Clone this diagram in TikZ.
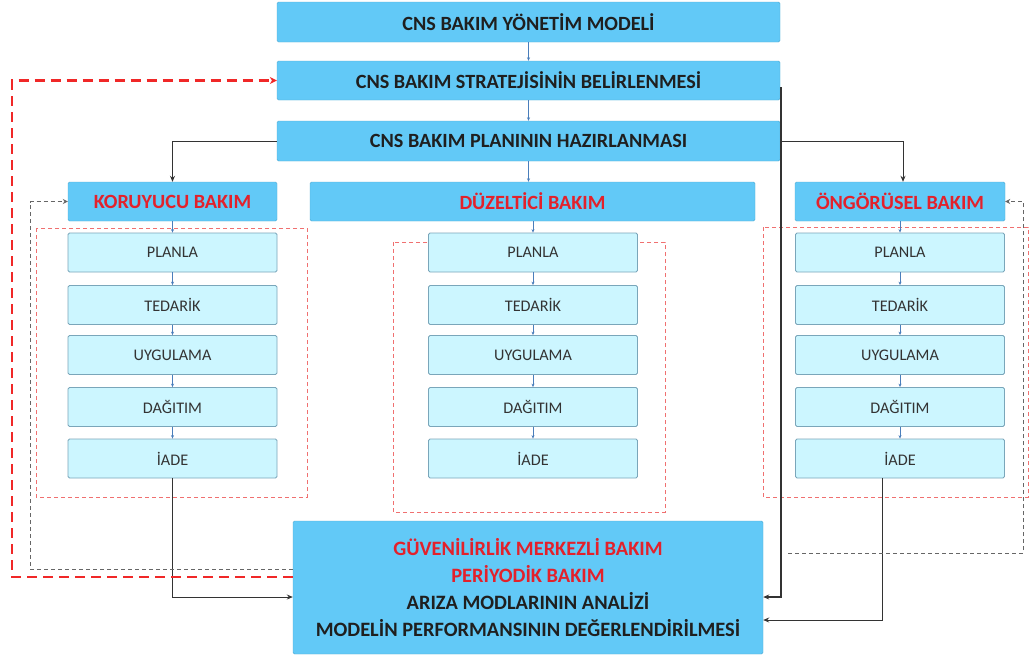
\documentclass[tikz,border=0pt]{standalone}
\usepackage{fontspec}
\setmainfont{Carlito}
\usetikzlibrary{arrows.meta}
\definecolor{boxblue}{HTML}{62C9F7}
\definecolor{subcyan}{HTML}{CCF6FF}
\definecolor{subedge}{HTML}{7AA6BA}
\definecolor{redtxt}{HTML}{E3212B}
\definecolor{dashred}{HTML}{F07070}
\definecolor{thickred}{HTML}{F02828}
\definecolor{arrblue}{HTML}{4A7EBB}
\definecolor{dashgray}{HTML}{666666}
\begin{document}
\begin{tikzpicture}[x=1pt,y=-1pt,
 mainbox/.style={rectangle, fill=boxblue, draw=boxblue!85!black, line width=0.4pt, rounded corners=1.5pt, inner sep=0pt, font=\bfseries\fontsize{20.2}{22}\selectfont, text=black!88},
 subbox/.style={rectangle, fill=subcyan, draw=subedge, line width=0.8pt, rounded corners=1.5pt, inner sep=0pt, minimum width=209pt, minimum height=39pt, font=\fontsize{16.2}{18}\selectfont, text=black!80},
 redlabel/.style={text=redtxt},
 flow/.style={arrblue, line width=0.6pt, -{Stealth[length=3.5pt,width=3pt]}},
 link/.style={black!80, line width=0.9pt, -{Stealth[length=6pt,width=5pt]}},
 groupframe/.style={dashred, line width=0.9pt, dash pattern=on 4pt off 3pt},
 reddash/.style={thickred, line width=2.4pt, dash pattern=on 10pt off 6pt, -{Stealth[length=7pt,width=7pt]}},
 graydash/.style={dashgray, line width=0.9pt, dash pattern=on 4pt off 3pt, -{Stealth[length=5pt,width=5pt]}}
]
\useasboundingbox[fill=white] (0,0) rectangle (1030,659);

% group frames
\draw[groupframe] (36,228) rectangle (307,497);
\draw[groupframe] (393,242) rectangle (665,512);
\draw[groupframe] (763,227) rectangle (1028,497);

% top boxes
\node[mainbox, minimum width=503pt, minimum height=40pt] (b1) at (528.5,22) {CNS BAKIM YÖNETİM MODELİ};
\node[mainbox, minimum width=503pt, minimum height=39pt] (b2) at (528.5,80.5) {CNS BAKIM STRATEJİSİNİN BELİRLENMESİ};
\node[mainbox, minimum width=503pt, minimum height=40pt] (b3) at (528.5,141) {CNS BAKIM PLANININ HAZIRLANMASI};
\node[mainbox, redlabel, minimum width=209pt, minimum height=39pt] (kor) at (172.5,201.5) {KORUYUCU BAKIM};
\node[mainbox, redlabel, minimum width=445pt, minimum height=39pt] (duz) at (532.5,201.5) {DÜZELTİCİ BAKIM};
\node[mainbox, redlabel, minimum width=210pt, minimum height=39pt] (ong) at (900,201.5) {ÖNGÖRÜSEL BAKIM};

% columns
\foreach \c/\x in {l/172.5, m/533, r/900}{
  \node[subbox] (\c1) at (\x,252.5) {PLANLA};
  \node[subbox] (\c2) at (\x,305) {TEDARİK};
  \node[subbox] (\c3) at (\x,355) {UYGULAMA};
  \node[subbox] (\c4) at (\x,407) {DAĞITIM};
  \node[subbox] (\c5) at (\x,458.5) {İADE};
  \draw[flow] (\c1.south) -- (\c2.north);
  \draw[flow] (\c2.south) -- (\c3.north);
  \draw[flow] (\c3.south) -- (\c4.north);
  \draw[flow] (\c4.south) -- (\c5.north);
}

% bottom box
\node[mainbox, minimum width=470pt, minimum height=133pt, align=center, font=\bfseries\fontsize{20.4}{27.3}\selectfont] (bot) at (528,587.5)
  {\textcolor{redtxt}{GÜVENİLİRLİK MERKEZLİ BAKIM}\\ \textcolor{redtxt}{PERİYODİK BAKIM}\\ ARIZA MODLARININ ANALİZİ\\ MODELİN PERFORMANSININ DEĞERLENDİRİLMESİ};

% flow arrows in top chain
\draw[flow] (b1.south) -- (b2.north);
\draw[flow] (b2.south) -- (b3.north);
\draw[flow] (b3.south) -- (b3.south |- duz.north);
\draw[flow] (m1.north |- duz.south) -- (m1.north);
\draw[flow] (kor.south) -- (l1.north);
\draw[flow] (ong.south) -- (r1.north);

% black connectors
\draw[link] (b3.west) -| (kor.north);
\draw[link] (b3.east) -| ([xshift=3pt]ong.north);
\coordinate (sr) at (781,87);
\draw[link, line width=1.4pt] (sr) |- ([yshift=-9.5pt]bot.east);
\draw[link] ([xshift=-18pt]r5.south) |- ([yshift=-32.5pt]bot.east);
\draw[link] (l5.south) |- ([yshift=-9.5pt]bot.west);

% dashed feedback
\coordinate (rl) at (12,0);
\draw[reddash] ([yshift=10.5pt]bot.west) -| (b2.west -| rl) -- (b2.west);
\coordinate (gl) at (30,0);
\draw[graydash] ([yshift=18.5pt]bot.west) -| (kor.west -| gl) -- (kor.west);
\coordinate (gs) at (788,553);
\coordinate (gr) at (1023,0);
\draw[graydash] (gs) -| (ong.east -| gr) -- (ong.east);
\end{tikzpicture}
\end{document}
